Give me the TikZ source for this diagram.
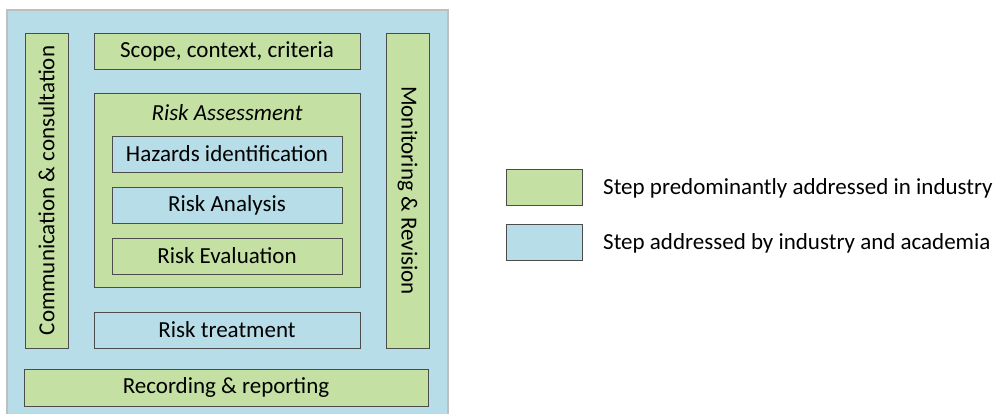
\documentclass[tikz,border=0pt]{standalone}
\usepackage{fontspec}
\setmainfont{Carlito}
\definecolor{stepgreen}{HTML}{C4E0A3}
\definecolor{stepblue}{HTML}{B7DDE8}
\definecolor{framegray}{HTML}{BFBFBF}

\begin{document}
\begin{tikzpicture}[x=1pt, y=-1pt,
    box/.style={draw=black!70, inner sep=0pt, font=\fontsize{23}{27}\selectfont},
    ind/.style={box, fill=stepgreen},
    acad/.style={box, fill=stepblue}]
    \useasboundingbox (0,0) rectangle (999,414);

    % Frame
    \fill[stepblue] (7,10) rectangle (448,414);
    \draw[framegray, line width=1.2pt] (7,414) -- (7,10) -- (448,10) -- (448,414);

    % Side bars
    \node[ind, minimum width=315, minimum height=43, rotate=90] (comm) at (46.5,190.5) {Communication \& consultation};
    \node[ind, minimum width=315, minimum height=43, rotate=-90] (monitor) at (407.5,190.5) {Monitoring \& Revision};

    % Top and bottom
    \node[ind, minimum width=266, minimum height=36] (scope) at (227,51) {Scope, context, criteria};
    \node[acad, minimum width=266, minimum height=36] (treat) at (227,330) {Risk treatment};
    \node[ind, minimum width=404, minimum height=37] (record) at (226,387.5) {Recording \& reporting};

    % Risk assessment
    \node[ind, minimum width=266, minimum height=194] (assess) at (227,190) {};
    \node[font=\fontsize{23}{27}\selectfont\itshape, inner sep=0pt] (assesstitle) at (227,113) {Risk Assessment};
    \node[acad, minimum width=230, minimum height=36] (hazards) at (227,154) {Hazards identification};
    \node[acad, minimum width=230, minimum height=36] (analysis) at (227,205) {Risk Analysis};
    \node[ind, minimum width=230, minimum height=36] (evaluation) at (227,256) {Risk Evaluation};

    % Legend
    \node[ind, minimum width=76, minimum height=36] (keyind) at (544,187) {};
    \node[acad, minimum width=76, minimum height=36] (keyacad) at (544,242) {};
    \node[font=\fontsize{23}{27}\selectfont, anchor=west, inner sep=0pt] (keyindtext) at (603,188) {Step predominantly addressed in industry};
    \node[font=\fontsize{23}{27}\selectfont, anchor=west, inner sep=0pt] (keyacadtext) at (603,243) {Step addressed by industry and academia};
\end{tikzpicture}
\end{document}
